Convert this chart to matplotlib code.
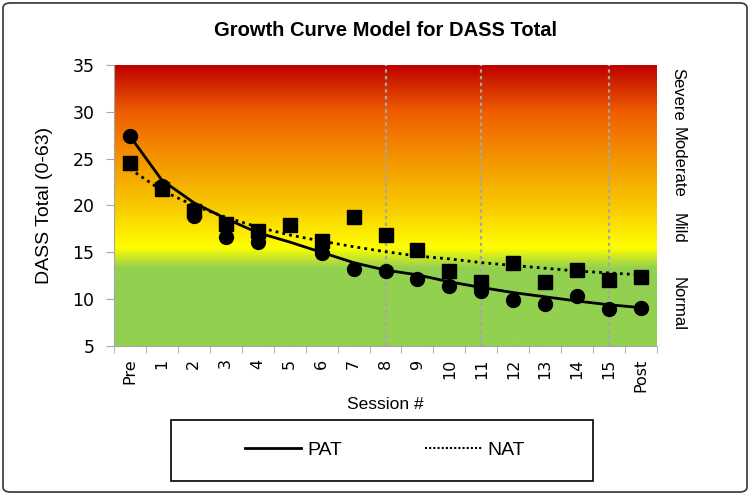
import matplotlib
matplotlib.use("Agg")
import matplotlib.pyplot as plt
import numpy as np
from matplotlib.colors import LinearSegmentedColormap
from matplotlib.patches import Rectangle, FancyBboxPatch
from matplotlib.lines import Line2D

plt.rcParams['font.family'] = ['Liberation Sans', 'DejaVu Sans']

sessions = ["Pre", "1", "2", "3", "4", "5", "6", "7", "8", "9", "10",
            "11", "12", "13", "14", "15", "Post"]
pat_obs = [27.4, 22.1, 18.9, 16.6, 16.1, np.nan, 14.9, 13.2, 13.0, 12.2, 11.4,
           10.9, 9.9, 9.5, 10.3, 9.0, 9.1]
nat_obs = [24.5, 21.8, 19.4, 18.0, 17.3, 17.9, 16.25, 18.75, 16.8, 15.2, 13.0,
           11.85, 13.9, 11.85, 13.1, 12.0, 12.4]
pat_fit = [27.4, 22.7, 20.3, 18.6, 17.1, 16.1, 15.0, 13.9, 13.1, 12.6, 11.85,
           11.25, 10.7, 10.25, 9.8, 9.4, 9.1]
nat_fit = [23.9, 21.6, 20.0, 18.75, 17.7, 16.85, 16.2, 15.6, 15.07, 14.6, 14.3,
           13.9, 13.6, 13.3, 13.0, 12.8, 12.6]
marker_sessions = ["8", "11", "15"]
severity_labels = ["Severe", "Moderate", "Mild", "Normal"]
severity_y = [31.9, 24.6, 17.6, 9.5]

fig = plt.figure(figsize=(7.5, 4.95), dpi=100)
ax = fig.add_axes([114/750, 1-346/495, (657-114)/750, (346-65)/495])

x = np.arange(len(sessions))
ymin, ymax = 5, 35

# gradient background
stops = [(5, "#92D050"), (13.3, "#92D050"), (15.5, "#FFFF00"), (20, "#F8C800"),
         (25, "#F49400"), (30, "#EE5E00"), (35, "#C00000")]
cmap = LinearSegmentedColormap.from_list(
    "sev", [((v - ymin) / (ymax - ymin), c) for v, c in stops])
grad = np.linspace(0, 1, 512).reshape(-1, 1)
ax.imshow(grad, extent=[-0.5, len(sessions) - 0.5, ymin, ymax], origin="lower",
          aspect="auto", cmap=cmap, zorder=0)

for s in marker_sessions:
    ax.axvline(sessions.index(s), color="#A6A6A6", linestyle=(0, (1.5, 1.5)),
               linewidth=1.6, zorder=1)

ax.plot(x, pat_fit, color="black", linewidth=2.0, zorder=3)
ax.plot(x, nat_fit, color="black", linewidth=2.0, linestyle=(0, (1, 1.5)), zorder=3)
ax.plot(x, pat_obs, "o", color="black", markersize=10, zorder=4)
ax.plot(x, nat_obs, "s", color="black", markersize=9.5, zorder=4)

ax.set_xlim(-0.5, len(sessions) - 0.5)
ax.set_ylim(ymin, ymax)
ax.set_yticks(np.arange(5, 36, 5))
ax.set_xticks(x)
ax.set_xticklabels(sessions, rotation=90, fontsize=11.5, family="DejaVu Sans")
for lbl in ax.get_yticklabels():
    lbl.set_family("DejaVu Sans")
ax.set_xticks(np.arange(-0.5, len(sessions), 1), minor=True)
ax.tick_params(axis="x", which="major", length=0, pad=9)
ax.tick_params(axis="x", which="minor", length=5, color="#A6A6A6")
ax.tick_params(axis="y", length=6, color="#A6A6A6", labelsize=12.5, pad=8)
for lbl in ax.get_yticklabels():
    lbl.set_family("DejaVu Sans")
for sp in ["top", "right"]:
    ax.spines[sp].set_visible(False)
for sp in ["left", "bottom"]:
    ax.spines[sp].set_color("#A6A6A6")

ax.set_ylabel("DASS Total (0-63)", fontsize=14, labelpad=14)
ax.set_xlabel("Session #", fontsize=12.5, labelpad=4)
ax.set_title("Growth Curve Model for DASS Total", fontsize=14.5, fontweight="bold",
             pad=21)

for lab, yv in zip(severity_labels, severity_y):
    ax.text(len(sessions) - 0.5 + 0.65, yv, lab, rotation=270, ha="center",
            va="center", fontsize=12, clip_on=False)

# legend box
fig.patches.append(Rectangle((171/750, 1-481/495), (593-171)/750, (481-420)/495,
                             transform=fig.transFigure, fill=False,
                             edgecolor="black", linewidth=1.2))
handles = [Line2D([], [], color="black", linewidth=2),
           Line2D([], [], color="black", linewidth=1.5, linestyle=(0, (1, 1)))]
fig.legend(handles, ["PAT", "NAT"], loc="center",
           bbox_to_anchor=((171+593)/2/750 + 0.004, 1-450/495), ncol=2, frameon=False,
           fontsize=14, handlelength=2.9, columnspacing=4.3, handletextpad=0.3)

# outer frame
fig.patches.append(FancyBboxPatch((0.004, 0.006), 0.992, 0.988,
                                  boxstyle="round,pad=0,rounding_size=0.01",
                                  transform=fig.transFigure, fill=False,
                                  edgecolor="#333333", linewidth=1.2))

fig.savefig("out.png", dpi=100)
